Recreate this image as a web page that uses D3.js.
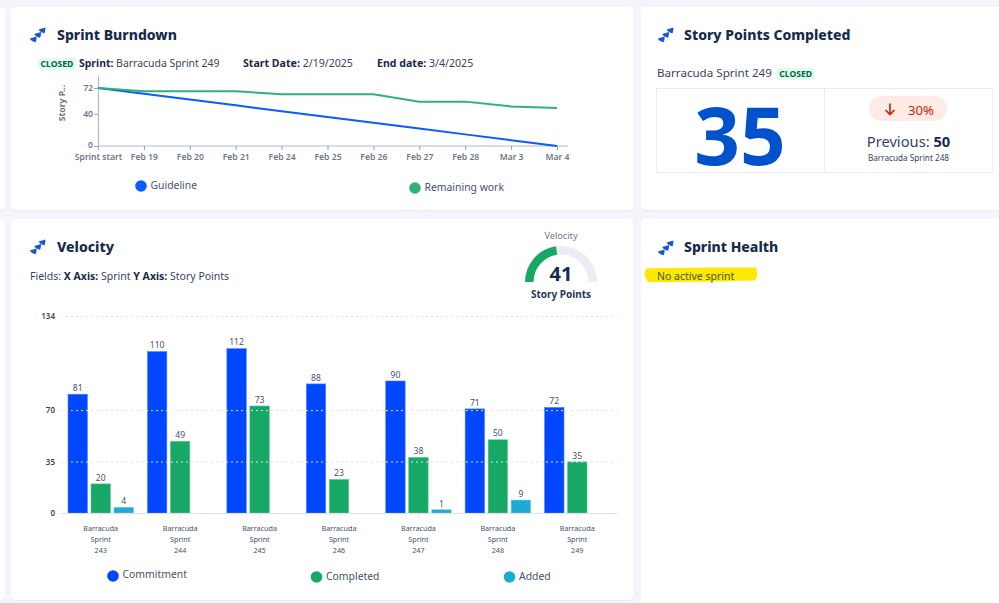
<!DOCTYPE html>
<html>
<head>
<meta charset="utf-8">
<script src="https://cdn.jsdelivr.net/npm/d3@7"></script>
<style>
html,body{margin:0;padding:0;background:#f4f5fa;overflow:hidden}
svg{display:block}
text{font-family:"Noto Sans","Open Sans",sans-serif}
</style>
</head>
<body>
<svg id="c" width="999" height="603"></svg>
<script>
// Burndown data
const burnDays = ["Sprint start","Feb 19","Feb 20","Feb 21","Feb 24","Feb 25","Feb 26","Feb 27","Feb 28","Mar 3","Mar 4"];
const guideline = [72,64.8,57.6,50.4,43.2,36,28.8,21.6,14.4,7.2,0];
const remaining = [72,68,68,68,64,64,64,55,55,49,47];
const burnTicks = [0,40,72];
// Velocity data
const sprints = ["243","244","245","246","247","248","249"];
const commitment = [81,110,112,88,90,71,72];
const completed = [20,49,73,23,38,50,35];
const added = [4,null,null,null,1,9,null];
const velocityTicks = [0,35,70,134];
const seriesNames = ["Commitment","Completed","Added"];
const seriesColors = ["#0047ff","#17a865","#1cabd4"];
const seriesEdges = ["#4d7dff","#5cc596","#62c6e3"];
// Gauge
const gaugeValue = 41;
const gaugeMax = 90;

const ink="#172b4d", grey="#6b778c";
const svg=d3.select("#c");

function card(x,y,w,h){
  svg.append("rect").attr("x",x).attr("y",y+1).attr("width",w).attr("height",h).attr("rx",4).attr("fill","#e3e5ef").attr("opacity",.7);
  svg.append("rect").attr("x",x).attr("y",y).attr("width",w).attr("height",h).attr("rx",4).attr("fill","#fff");
}
card(-20,7,25,203);card(-20,219,25,381);
card(11,7,622,203);card(641,7,380,203);card(11,219,622,381);card(641,219,380,400);

function icon(x,y){
  const g=svg.append("g").attr("transform",`translate(${x},${y})`).attr("fill","#1558d6");
  [0,1,2].forEach(i=>g.append("path")
    .attr("transform",`translate(${-4.4*i},${4.4*i})`)
    .attr("d","M8.6 2.6 L15.4 0.6 C15.5 2.8 15.2 4.6 14.4 6.4 C11.9 6 9.8 4.6 8.6 2.6Z"));
}
function title(x,y,t){
  svg.append("text").attr("x",x).attr("y",y).attr("font-size",14).attr("font-weight",800).attr("fill",ink).text(t);
}
function badge(x,y,w,h){
  svg.append("rect").attr("x",x).attr("y",y).attr("width",w).attr("height",h).attr("rx",2).attr("fill","#e3fcef");
  svg.append("text").attr("x",x+w/2).attr("y",y+h-3).attr("text-anchor","middle").attr("font-size",8.6).attr("font-weight",700).attr("fill","#006644").text("CLOSED");
}
function label(x,y,parts,size){
  const t=svg.append("text").attr("x",x).attr("y",y).attr("font-size",size).attr("fill",ink);
  parts.forEach(([s,b])=>t.append("tspan").attr("font-weight",b?700:400).attr("fill",b?ink:"#344563").text(s));
  return t;
}
function legend(cx,cy,ty,name,color){
  svg.append("circle").attr("cx",cx).attr("cy",cy).attr("r",5.8).attr("fill",color);
  svg.append("text").attr("x",cx+9.5).attr("y",ty).attr("font-size",10.4).attr("fill","#42526e").text(name);
}

/* ---------- Burndown ---------- */
icon(30,27); title(57,40,"Sprint Burndown");
badge(38,58,38,12);
label(79,67,[["Sprint: ",1],["Barracuda Sprint 249",0]],10.45);
label(243,67,[["Start Date: ",1],["2/19/2025",0]],10.6);
label(377,67,[["End date: ",1],["3/4/2025",0]],10.6);

const bx=d3.scalePoint().domain(burnDays).range([98,557]);
const by=d3.scaleLinear().domain([0,88]).range([146,75]);
const bxA=svg.append("g").attr("transform","translate(0,146)")
  .call(d3.axisBottom(bx).tickSize(4).tickPadding(2).tickSizeOuter(0));
bxA.select(".domain").attr("d","M98,0H568").attr("stroke","#b3bac5").attr("stroke-width",1.2);
bxA.selectAll("line").attr("stroke","#97a0af");
bxA.selectAll("text").attr("font-size",8.6).attr("font-weight",600).attr("fill",grey).attr("y",13.5).attr("dy",0);
const byA=svg.append("g").attr("transform","translate(98,0)")
  .call(d3.axisLeft(by).tickValues(burnTicks).tickSize(4).tickPadding(1).tickSizeOuter(0));
byA.select(".domain").attr("stroke","#b3bac5").attr("stroke-width",1.2);
byA.selectAll("line").attr("stroke","#97a0af");
byA.selectAll("text").attr("font-size",8.6).attr("font-weight",600).attr("fill",grey);
byA.selectAll(".tick").filter(d=>d===0).select("text").attr("dy",1.5);
svg.append("text").attr("transform","translate(65,103) rotate(-90)").attr("text-anchor","middle")
  .attr("font-size",8.6).attr("font-weight",700).attr("fill",grey).text("Story P...");
const bLine=d3.line().x((d,i)=>bx(burnDays[i])).y(d=>by(d));
svg.append("path").datum(guideline).attr("d",bLine).attr("fill","none").attr("stroke","#0a5cff").attr("stroke-width",2);
svg.append("path").datum(remaining).attr("d",bLine).attr("fill","none").attr("stroke","#2eb27a").attr("stroke-width",2);
legend(141,186,189,"Guideline","#0a5cff");
legend(415,188,191,"Remaining work","#2eb27a");

/* ---------- Story points ---------- */
icon(658,27); title(684,40,"Story Points Completed");
svg.append("text").attr("x",657).attr("y",77).attr("font-size",11.6).attr("fill","#344563").text("Barracuda Sprint 249");
badge(776.5,68,38.5,12);
svg.append("rect").attr("x",656.5).attr("y",88.5).attr("width",336).attr("height",84).attr("fill","none").attr("stroke","#ebecf5");
svg.append("line").attr("x1",824.5).attr("x2",824.5).attr("y1",88.5).attr("y2",172.5).attr("stroke","#ebecf5");
const sc=completed[completed.length-1], prev=completed[completed.length-2];
svg.append("text").attr("x",740).attr("y",165).attr("text-anchor","middle").attr("font-size",80).attr("font-weight",700).attr("fill","#0052cc").text(sc);
svg.append("rect").attr("x",869).attr("y",96).attr("width",78).attr("height",25).attr("rx",12.5).attr("fill","#ffebe6");
svg.append("path").attr("d","M890 103.5V114.5M885.5 110L890 114.5L894.5 110").attr("fill","none").attr("stroke","#bf2600").attr("stroke-width",1.6);
svg.append("text").attr("x",908).attr("y",114.5).attr("font-size",13.2).attr("fill","#bf2600").text(Math.round((prev-sc)/prev*100)+"%");
const pv=svg.append("text").attr("x",908.5).attr("y",147).attr("text-anchor","middle").attr("font-size",14.7).attr("fill","#344563");
pv.append("tspan").text("Previous: ");
pv.append("tspan").attr("font-weight",700).attr("fill",ink).text(prev);
svg.append("text").attr("x",908.5).attr("y",161).attr("text-anchor","middle").attr("font-size",8.2).attr("fill","#344563").text("Barracuda Sprint 248");

/* ---------- Health ---------- */
icon(658,240); title(684,252,"Sprint Health");
svg.append("path").attr("d","M646 268.5 C680 267.5 730 267.5 756 267.5 C757.5 272 757.5 277 755 280.5 C720 281.5 680 282 648 282 C644.5 278 644 272 646 268.5Z").attr("fill","#ffe800");
svg.append("text").attr("x",657).attr("y",280).attr("font-size",10.5).attr("fill","#3a5a12").text("No active sprint");

/* ---------- Velocity ---------- */
icon(30,239); title(57,252,"Velocity");
label(30,280,[["Fields: ",0],["X Axis: ",1],["Sprint ",0],["Y Axis: ",1],["Story Points",0]],10.5);

// gauge
const arc=d3.arc().innerRadius(27.5).outerRadius(36);
const ga=d3.scaleLinear().domain([0,gaugeMax]).range([-Math.PI/2,Math.PI/2]);
const gg=svg.append("g").attr("transform","translate(561,282)");
gg.append("path").attr("d",arc({startAngle:-Math.PI/2,endAngle:Math.PI/2})).attr("fill","#ebecf5");
gg.append("path").attr("d",arc({startAngle:-Math.PI/2,endAngle:ga(gaugeValue)})).attr("fill","#17a865");
svg.append("text").attr("x",561).attr("y",239).attr("text-anchor","middle").attr("font-size",9.2).attr("fill",grey).text("Velocity");
svg.append("text").attr("x",561).attr("y",281).attr("text-anchor","middle").attr("font-size",20).attr("font-weight",700).attr("fill",ink).text(gaugeValue);
svg.append("text").attr("x",561).attr("y",298).attr("text-anchor","middle").attr("font-size",10).attr("font-weight",700).attr("fill","#253858").text("Story Points");

const vx=d3.scaleBand().domain(sprints).range([61,617]);
const vs=d3.scaleBand().domain(seriesNames).range([-33,33]).paddingInner(.13);
const vy=d3.scaleLinear().domain([0,134]).range([513,316]);
const minBar=3.5; // the chart keeps tiny values visible
const topOf=v=>Math.min(vy(v),vy(0)-minBar);
const seriesValues=[commitment,completed,added];
const bars=svg.append("g");
seriesNames.forEach((name,k)=>{
  const rows=sprints.map((s,i)=>({s,v:seriesValues[k][i]})).filter(d=>d.v!=null);
  const bw=vs.bandwidth();
  const px=d=>vx(d.s)+vx.bandwidth()/2+vs(name);
  bars.selectAll(null).data(rows).join("rect")
    .attr("x",d=>px(d)+.3).attr("y",d=>topOf(d.v)+.3).attr("width",bw-.6).attr("height",d=>vy(0)-topOf(d.v)-.3)
    .attr("fill",seriesColors[k]).attr("stroke",seriesEdges[k]).attr("stroke-width",.6);
  bars.selectAll(null).data(rows).join("text")
    .attr("x",d=>px(d)+bw/2).attr("y",d=>topOf(d.v)-3).attr("text-anchor","middle")
    .attr("font-size",8.6).attr("fill","#42526e").text(d=>d.v);
});
const grid=svg.append("g").attr("transform","translate(61,0)")
  .call(d3.axisLeft(vy).tickValues(velocityTicks).tickSize(-556).tickPadding(6).tickSizeOuter(0));
grid.select(".domain").remove();
grid.selectAll("line").attr("stroke","#dfe2f0").attr("stroke-dasharray","2 3");
grid.selectAll("text").attr("font-size",8).attr("font-weight",600).attr("fill","#344563");
grid.selectAll(".tick").filter(d=>d===0).select("line").attr("stroke-dasharray",null).attr("stroke","#dfe1ee");
const vxA=svg.append("g").attr("transform","translate(0,513)")
  .call(d3.axisBottom(vx).tickSize(4).tickSizeOuter(0).tickFormat(""));
vxA.select(".domain").remove();
vxA.selectAll("line").attr("stroke","#dfe1ee");
sprints.forEach(s=>{
  ["Barracuda","Sprint",s].forEach((t,i)=>{
    svg.append("text").attr("x",vx(s)+vx.bandwidth()/2).attr("y",531+i*11).attr("text-anchor","middle")
      .attr("font-size",7.2).attr("fill","#42526e").text(t);
  });
});
legend(113,576,578,seriesNames[0],seriesColors[0]);
legend(316.5,577,580,seriesNames[1],seriesColors[1]);
legend(509.5,577,580,seriesNames[2],seriesColors[2]);
</script>
</body>
</html>
